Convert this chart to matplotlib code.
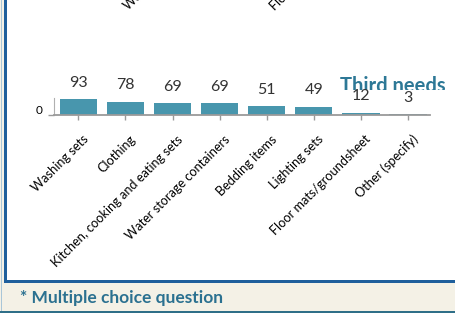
import matplotlib
matplotlib.use("Agg")
import matplotlib.pyplot as plt
from matplotlib.patches import Rectangle
from matplotlib.transforms import Bbox, ScaledTranslation

categories = ["Washing sets", "Clothing", "Kitchen, cooking and eating sets",
              "Water storage containers", "Bedding items", "Lighting sets",
              "Floor mats/groundsheet", "Other (specify)"]
values = [93, 78, 69, 69, 51, 49, 12, 3]
title = "Third needs"
footer = "* Multiple choice question"

W, H = 455, 313
FONT = "Lato"
BAR = "#4896ad"
BLUE = "#1f5f9c"
BEIGE = "#f4f1e6"
TEAL = "#2b7190"

fig = plt.figure(figsize=(W / 100, H / 100), dpi=100)
fig.patch.set_facecolor(BEIGE)

def fx(px):
    return px / W

def fy(py):
    return 1 - py / H

def rect(x0, y0, x1, y1, color):
    fig.patches.append(Rectangle((fx(x0), fy(y1)), fx(x1) - fx(x0), fy(y0) - fy(y1),
                                 transform=fig.transFigure, facecolor=color,
                                 edgecolor="none", zorder=-10))

# frame
rect(1, 0, 2.2, 311, "#a9c6d8")
rect(4, -10, 470, 283, BLUE)
rect(7.3, -10, 470, 279.5, "white")
rect(0, 310.5, 470, 313, "#2f6f88")

# axes: spine left at x=54, bottom at y=115
left, right, top, bottom = 54, 430, 98, 115
ax = fig.add_axes([fx(left), fy(bottom), fx(right - left), fy(top) - fy(bottom)])
ax.set_zorder(5)
ax.set_facecolor("none")
x = list(range(len(categories)))
ax.bar(x, values, width=0.79, color=BAR, zorder=2)
ax.set_xlim(-0.516, 7.467)
ax.set_ylim(0, 100)
for s in ["top", "right"]:
    ax.spines[s].set_visible(False)
ax.spines["left"].set_color("#b0b0b0")
ax.spines["left"].set_linewidth(0.8)
ax.spines["bottom"].set_color("#9a9a9a")
ax.spines["bottom"].set_linewidth(1.3)
ax.set_yticks([0])
ax.set_yticklabels(["0"], fontsize=8.5, family=FONT)
ax.tick_params(axis="y", length=4.5, width=1, color="#9a9a9a", pad=4)
for lab in ax.get_yticklabels():
    lab.set_transform(lab.get_transform() + ScaledTranslation(0, 5 / 100, fig.dpi_scale_trans))
ax.set_xticks(x)
ax.set_xticklabels(categories, rotation=45, ha="right", rotation_mode="anchor",
                   fontsize=9.2, family=FONT, va="center", color="black")
ax.tick_params(axis="x", length=3.5, width=1, color="#9a9a9a", pad=9)
for lab in ax.get_xticklabels():
    lab.set_transform(lab.get_transform() + ScaledTranslation(8 / 100, -5 / 100, fig.dpi_scale_trans))

for xi, v in zip(x, values):
    ax.annotate(str(v), (xi, v), xytext=(0, 12), textcoords="offset points",
                ha="center", va="center", fontsize=11.5, family=FONT,
                color="#333333", annotation_clip=False)

t = fig.text(fx(340), fy(92), title, fontsize=14.5, family=FONT, fontweight="bold",
             color="#2d7896", ha="left", va="baseline", zorder=1)
t.set_clip_box(Bbox([[0, H - 89.5], [W, H]]))
t.set_clip_on(True)

fig.text(fx(20), fy(298), footer, fontsize=12.5, family=FONT, fontweight="bold",
         color=TEAL, ha="left", va="center")

# cut-off labels from the chart above
fig.text(fx(129), fy(11), "Water storage", rotation=45, fontsize=9.2, family=FONT,
         ha="left", va="baseline", rotation_mode="anchor")
fig.text(fx(275), fy(11), "Floor mats", rotation=45, fontsize=9.2, family=FONT,
         ha="left", va="baseline", rotation_mode="anchor")

fig.savefig("out.png", dpi=100, facecolor=fig.get_facecolor())
